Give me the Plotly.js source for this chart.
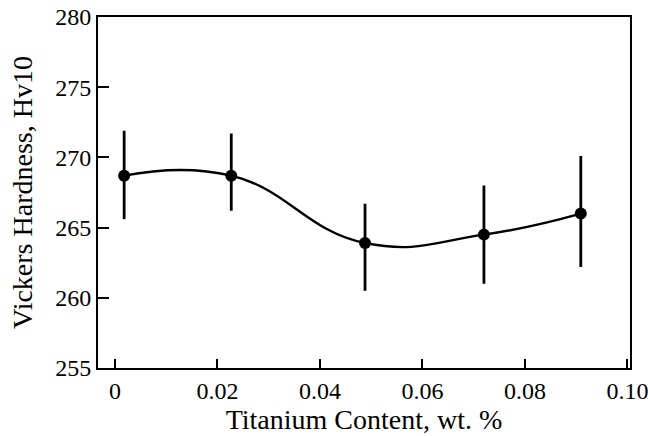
<!DOCTYPE html>
<html>
<head>
<meta charset="utf-8">
<script src="https://cdn.plot.ly/plotly-3.0.1.min.js"></script>
<style>html,body{margin:0;padding:0;background:#fff;}#chart{width:648px;height:436px;}</style>
</head>
<body>
<div id="chart"></div>
<script>
var titaniumContent = [0.0018, 0.0227, 0.0488, 0.0720, 0.0909];
var hardness = [268.7, 268.7, 263.9, 264.5, 266.0];
var errUpper = [3.2, 3.0, 2.8, 3.5, 4.1];
var errLower = [3.1, 2.5, 3.4, 3.5, 3.8];
var xTickVals = [0, 0.02, 0.04, 0.06, 0.08, 0.10];
var xTickText = ["0", "0.02", "0.04", "0.06", "0.08", "0.10"];
var yTickVals = [255, 260, 265, 270, 275, 280];

var font = {family: "Liberation Serif, Times New Roman, serif", color: "#000"};

var traces = [
  {
    x: titaniumContent, y: hardness, type: "scatter", mode: "lines",
    line: {shape: "spline", smoothing: 1.3, color: "#000", width: 2.4},
    hoverinfo: "skip", showlegend: false
  },
  {
    x: titaniumContent, y: hardness, type: "scatter", mode: "markers",
    marker: {color: "#000", size: 12},
    error_y: {type: "data", symmetric: false, array: errUpper, arrayminus: errLower,
              color: "#000", thickness: 2.8, width: 0},
    showlegend: false
  }
];

var layout = {
  width: 648, height: 436,
  margin: {l: 98, r: 18, t: 17, b: 68},
  paper_bgcolor: "#fff", plot_bgcolor: "#fff",
  font: Object.assign({size: 24}, font),
  xaxis: {
    range: [-0.0033, 0.1005], tickvals: xTickVals, ticktext: xTickText,
    ticks: "inside", ticklen: 9, tickwidth: 2, tickcolor: "#000",
    showline: true, linecolor: "#000", linewidth: 2, mirror: true,
    showgrid: false, zeroline: false, ticklabeloverflow: "allow",
    tickfont: Object.assign({size: 24}, font),
    title: {text: "Titanium Content, wt. %", font: Object.assign({size: 28}, font), standoff: 0}
  },
  yaxis: {
    range: [255, 280], tickvals: yTickVals,
    ticks: "inside", ticklen: 11, tickwidth: 2, tickcolor: "#000",
    showline: true, linecolor: "#000", linewidth: 2, mirror: true,
    showgrid: false, zeroline: false,
    tickfont: Object.assign({size: 24}, font),
    title: {text: "Vickers Hardness, Hv10", font: Object.assign({size: 28}, font), standoff: 14}
  }
};

Plotly.newPlot("chart", traces, layout, {displayModeBar: false, staticPlot: true});
</script>
</body>
</html>
